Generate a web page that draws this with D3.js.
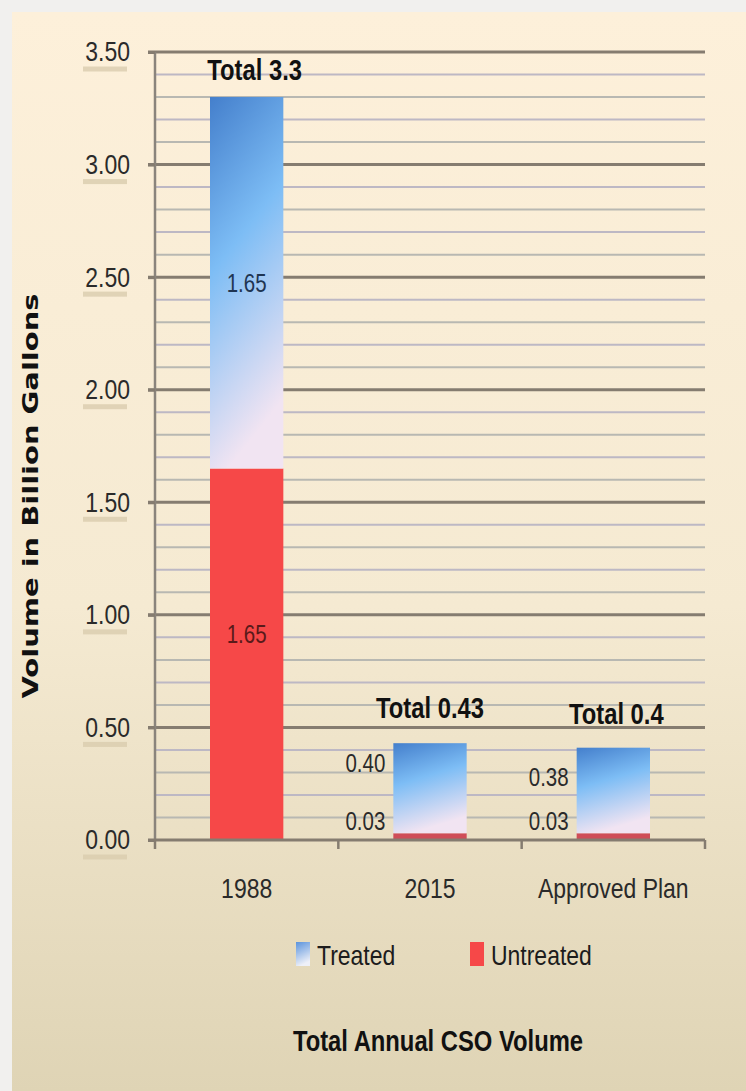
<!DOCTYPE html>
<html><head><meta charset="utf-8">
<script src="https://cdn.jsdelivr.net/npm/d3@7"></script>
<style>
html,body{margin:0;padding:0;background:#f1f0ee;}
svg{display:block;}
</style></head>
<body>
<svg id="chart" width="746" height="1091"></svg>
<script>
const categories = ["1988", "2015", "Approved Plan"];
const untreated = [1.65, 0.03, 0.03];
const treated = [1.65, 0.40, 0.38];
const untreatedLabels = ["1.65", "0.03", "0.03"];
const treatedLabels = ["1.65", "0.40", "0.38"];
const totalLabels = ["Total 3.3", "Total 0.43", "Total 0.4"];
const yTicks = [0, 0.5, 1.0, 1.5, 2.0, 2.5, 3.0, 3.5];
const yMinorTicks = d3.range(0, 36).map(i => i / 10);
const seriesNames = ["Treated", "Untreated"];
const chartTitle = "Total Annual CSO Volume";
const yTitle = "Volume in Billion Gallons";

(function(){
const svg = d3.select("#chart");
const W = 746, H = 1091;
const narrow = "'Liberation Sans', Arial, sans-serif";
const COND = 0.82;

const defs = svg.append("defs");
const bg = defs.append("linearGradient").attr("id","bg").attr("x1",0).attr("y1",0).attr("x2",0).attr("y2",1);
bg.append("stop").attr("offset","0%").attr("stop-color","#fdf0da");
bg.append("stop").attr("offset","55%").attr("stop-color","#f5ead2");
bg.append("stop").attr("offset","100%").attr("stop-color","#dfd4b5");

const tg = defs.append("linearGradient").attr("id","treat").attr("x1",0).attr("y1",0).attr("x2",0.25).attr("y2",1);
tg.append("stop").attr("offset","0%").attr("stop-color","#447fcc");
tg.append("stop").attr("offset","45%").attr("stop-color","#7dbdf5");
tg.append("stop").attr("offset","100%").attr("stop-color","#f1e4f2");

const lg = defs.append("linearGradient").attr("id","legT").attr("x1",0).attr("y1",0).attr("x2",0.3).attr("y2",1);
lg.append("stop").attr("offset","0%").attr("stop-color","#5a93dc");
lg.append("stop").attr("offset","100%").attr("stop-color","#eef0f8");

svg.append("rect").attr("x",12).attr("y",12).attr("width",W-12).attr("height",H-12).attr("fill","url(#bg)");

const pL = 155, pR = 705, pT = 52, pB = 840;
const x = d3.scaleBand().domain(categories).range([pL, pR]).paddingInner(0.6).paddingOuter(0.3);
const y = d3.scaleLinear().domain([0, 3.5]).range([pB, pT]);

// minor gridlines
svg.append("g").selectAll("line").data(yMinorTicks.filter(v => Math.round(v*10) % 5 !== 0))
  .join("line").attr("x1", pL).attr("x2", pR)
  .attr("y1", d => y(d)).attr("y2", d => y(d))
  .attr("stroke", (d, i) => i % 2 ? "#bdb8c4" : "#b8b8b2").attr("stroke-width", 2);
// major gridlines
svg.append("g").selectAll("line").data(yTicks.filter(v => v > 0))
  .join("line").attr("x1", pL - 7).attr("x2", pR)
  .attr("y1", d => y(d)).attr("y2", d => y(d))
  .attr("stroke", "#857c70").attr("stroke-width", 3);

// bars
const g = svg.append("g");
categories.forEach((c, i) => {
  const bx = x(c), bw = x.bandwidth();
  g.append("rect").attr("x", bx).attr("width", bw)
    .attr("y", y(untreated[i])).attr("height", y(0) - y(untreated[i]))
    .attr("fill", i === 0 ? "#f64848" : "#cf4d58");
  g.append("rect").attr("x", bx).attr("width", bw)
    .attr("y", y(untreated[i] + treated[i])).attr("height", y(untreated[i]) - y(untreated[i] + treated[i]))
    .attr("fill", "url(#treat)");
});

// axes
const yAxis = d3.axisLeft(y).tickValues(yTicks).tickFormat(d3.format(".2f")).tickSize(7).tickPadding(18);
const ya = svg.append("g").attr("transform", `translate(${pL},0)`).call(yAxis);
ya.select(".domain").attr("stroke", "#8a847c").attr("stroke-width", 2.5).attr("d", `M0,${pT}V${pB}`);
ya.selectAll(".tick line").attr("stroke", "#857c70").attr("stroke-width", 3);
ya.selectAll(".tick").insert("rect", "text").attr("x", -72).attr("y", 14).attr("width", 44).attr("height", 5)
  .attr("fill", "#d9ccae").attr("opacity", 0.8);
ya.selectAll(".tick text").attr("class","cond").attr("font-family", narrow).attr("font-size", 28).attr("fill", "#2a2a2a").attr("dy", "0.32em");

const xa = svg.append("g").attr("transform", `translate(0,${pB})`);
xa.append("line").attr("x1", pL - 7).attr("x2", pR).attr("y1", 0).attr("y2", 0).attr("stroke", "#857c70").attr("stroke-width", 3);
const bounds = [pL, ...categories.map(c => x(c) + x.bandwidth() + x.step()*x.paddingInner()/2).slice(0, -1), pR];
xa.selectAll("line.t").data(bounds).join("line").attr("class","t")
  .attr("x1", d => d).attr("x2", d => d).attr("y1", 0).attr("y2", 9)
  .attr("stroke", "#857c70").attr("stroke-width", 2.5);
xa.selectAll("text").data(categories).join("text").attr("class","cond")
  .attr("x", d => x(d) + x.bandwidth()/2).attr("y", 58)
  .attr("text-anchor", "middle").attr("font-family", narrow).attr("font-size", 28).attr("fill", "#2a2a2a")
  .text(d => d);

// value labels
categories.forEach((c, i) => {
  const cx = x(c) + x.bandwidth()/2;
  if (i === 0) {
    g.append("text").attr("class","cond").attr("x", cx).attr("y", y(untreated[i] + treated[i]/2)).attr("dy","0.35em")
      .attr("text-anchor","middle").attr("font-family", narrow).attr("font-size", 25).attr("fill", "#1f3552")
      .text(treatedLabels[i]);
    g.append("text").attr("class","cond").attr("x", cx).attr("y", y(untreated[i]/2) - 20).attr("dy","0.35em")
      .attr("text-anchor","middle").attr("font-family", narrow).attr("font-size", 25).attr("fill", "#5a1a1a")
      .text(untreatedLabels[i]);
    g.append("text").attr("class","cond").attr("x", cx + 8).attr("y", y(3.5) + 18).attr("dy","0.35em")
      .attr("text-anchor","middle").attr("font-family", narrow).attr("font-weight","bold").attr("font-size", 29).attr("fill", "#111")
      .text(totalLabels[i]);
  } else {
    const lx = x(c) - 8;
    g.append("text").attr("class","cond").attr("x", lx).attr("y", y(untreated[i] + treated[i]) + 20 + (i === 2 ? 10 : 0)).attr("dy","0.35em")
      .attr("text-anchor","end").attr("font-family", narrow).attr("font-size", 25).attr("fill", "#2a2a2a")
      .text(treatedLabels[i]);
    g.append("text").attr("class","cond").attr("x", lx).attr("y", y(untreated[i]) - 12).attr("dy","0.35em")
      .attr("text-anchor","end").attr("font-family", narrow).attr("font-size", 25).attr("fill", "#2a2a2a")
      .text(untreatedLabels[i]);
    g.append("text").attr("class","cond").attr("x", cx + (i === 2 ? 3 : 0)).attr("y", y(untreated[i] + treated[i]) - 34 + (i === 2 ? 0 : -1)).attr("dy","0.35em")
      .attr("text-anchor","middle").attr("font-family", narrow).attr("font-weight","bold").attr("font-size", 29).attr("fill", "#111")
      .text(totalLabels[i]);
  }
});

// y title
svg.append("text").attr("transform", `translate(38,${(pT+pB)/2 + 50}) rotate(-90)`)
  .attr("text-anchor","middle").attr("font-family","'DejaVu Sans', Verdana, sans-serif").attr("font-weight","bold")
  .attr("font-size", 22).attr("fill", "#111").attr("textLength", 405).attr("lengthAdjust","spacingAndGlyphs")
  .text(yTitle);

// legend
const leg = svg.append("g");
const legItems = [{name: seriesNames[0], x: 296, fill: "url(#legT)"}, {name: seriesNames[1], x: 470, fill: "#f64848"}];
legItems.forEach(d => {
  leg.append("rect").attr("x", d.x).attr("y", 942).attr("width", 14).attr("height", 24).attr("fill", d.fill);
  leg.append("text").attr("class","cond").attr("x", d.x + 21).attr("y", 955).attr("dy","0.35em")
    .attr("font-family", narrow).attr("font-size", 28).attr("fill", "#1c1c1c").text(d.name);
});

svg.append("text").attr("class","cond").attr("x", 438).attr("y", 1041).attr("dy","0.35em").attr("text-anchor","middle")
  .attr("font-family", narrow).attr("font-weight","bold").attr("font-size", 29).attr("fill", "#111")
  .text(chartTitle);

// condense text to mimic a narrow face
svg.selectAll("text.cond").each(function(){
  const L = this.getComputedTextLength();
  d3.select(this).attr("textLength", (L * COND).toFixed(1)).attr("lengthAdjust", "spacingAndGlyphs");
});
})();
</script>
</body></html>
